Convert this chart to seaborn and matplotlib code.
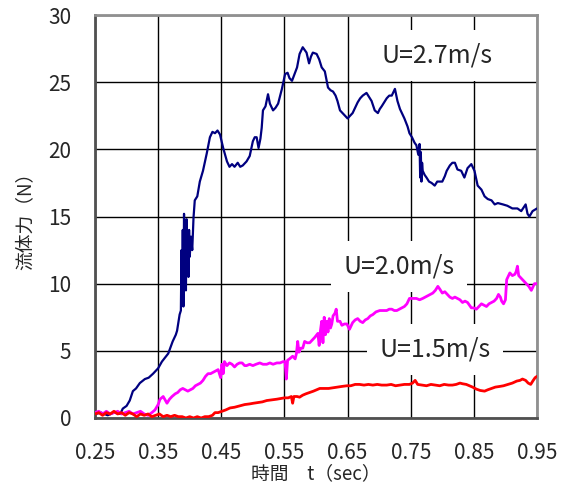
import numpy as np
import pandas as pd
import matplotlib
matplotlib.use("Agg")
import matplotlib.pyplot as plt
import seaborn as sns

# U=2.7m/s
t_27 = [0.250, 0.260, 0.270, 0.280, 0.290, 0.294, 0.300, 0.305, 0.310, 0.315,
        0.321, 0.329, 0.335, 0.342, 0.350, 0.356, 0.361, 0.366, 0.373, 0.378,
        0.380, 0.384, 0.386, 0.387, 0.388, 0.389, 0.390, 0.391, 0.392, 0.393,
        0.394, 0.395, 0.396, 0.397, 0.398, 0.399, 0.400, 0.402, 0.404, 0.406,
        0.408, 0.412, 0.416, 0.421, 0.427, 0.432, 0.436, 0.440, 0.444, 0.448,
        0.453, 0.459, 0.463, 0.467, 0.471, 0.476, 0.480, 0.484, 0.490, 0.495,
        0.500, 0.503, 0.506, 0.509, 0.512, 0.514, 0.516, 0.520, 0.524, 0.527,
        0.532, 0.536, 0.540, 0.546, 0.551, 0.555, 0.558, 0.562, 0.566, 0.570,
        0.574, 0.579, 0.585, 0.589, 0.592, 0.595, 0.601, 0.605, 0.609, 0.614,
        0.619, 0.623, 0.627, 0.631, 0.634, 0.638, 0.642, 0.646, 0.650, 0.654,
        0.658, 0.662, 0.666, 0.670, 0.674, 0.680, 0.684, 0.688, 0.693, 0.698,
        0.701, 0.704, 0.708, 0.712, 0.716, 0.720, 0.725, 0.729, 0.733, 0.736,
        0.740, 0.745, 0.748, 0.752, 0.756, 0.759, 0.762, 0.764, 0.765, 0.766,
        0.767, 0.768, 0.769, 0.772, 0.775, 0.779, 0.783, 0.788, 0.792, 0.796,
        0.800, 0.804, 0.807, 0.812, 0.816, 0.820, 0.824, 0.830, 0.835, 0.840,
        0.846, 0.851, 0.856, 0.862, 0.867, 0.872, 0.878, 0.883, 0.888, 0.896,
        0.903, 0.911, 0.919, 0.925, 0.932, 0.935, 0.938, 0.943, 0.950]
f_27 = [0.3, 0.4, 0.2, 0.4, 0.3, 0.7, 0.9, 1.3, 2.0, 2.2,
        2.6, 2.9, 3.0, 3.3, 3.7, 4.2, 4.5, 4.8, 5.7, 6.2,
        6.5, 7.7, 8.0, 12.5, 9.0, 14.0, 8.3, 15.2, 10.0, 13.5,
        9.5, 14.8, 11.0, 13.0, 10.5, 14.0, 12.0, 13.5, 12.5, 14.9,
        16.2, 16.5, 17.6, 18.4, 19.7, 20.9, 21.3, 21.2, 21.4, 21.1,
        20.1, 19.1, 18.7, 18.9, 18.7, 19.0, 18.7, 18.8, 19.1, 19.5,
        20.6, 20.9, 20.9, 20.1, 20.8, 21.6, 22.9, 23.2, 24.1, 23.4,
        22.9, 23.1, 23.4, 24.5, 25.6, 25.7, 25.3, 25.1, 25.6, 26.1,
        27.1, 27.6, 27.2, 26.4, 26.9, 27.2, 27.1, 26.7, 26.1, 25.8,
        24.6, 24.4, 24.3, 24.0, 23.6, 22.9, 22.7, 22.5, 22.3, 22.5,
        22.7, 23.1, 23.5, 23.8, 24.0, 24.2, 23.9, 23.6, 22.9, 22.7,
        23.0, 23.2, 23.5, 23.8, 24.0, 24.0, 24.5, 23.6, 23.0, 22.7,
        22.3, 21.7, 21.2, 20.9, 20.5, 20.3, 19.6, 20.4, 17.9, 19.8,
        17.6, 19.0, 18.4, 18.1, 17.9, 17.6, 17.5, 17.3, 17.6, 17.6,
        17.6, 18.0, 18.4, 18.8, 19.0, 19.0, 18.5, 18.4, 17.9, 18.6,
        18.9, 18.4, 17.3, 17.0, 16.5, 16.3, 16.2, 15.9, 16.0, 15.9,
        15.8, 15.6, 15.6, 15.4, 15.9, 15.2, 15.0, 15.4, 15.6]

# U=2.0m/s
t_20 = [0.250, 0.256, 0.262, 0.268, 0.274, 0.280, 0.286, 0.292, 0.298, 0.304,
        0.310, 0.316, 0.322, 0.328, 0.334, 0.340, 0.345, 0.350, 0.353, 0.358,
        0.364, 0.368, 0.372, 0.377, 0.381, 0.385, 0.389, 0.393, 0.397, 0.401,
        0.405, 0.409, 0.413, 0.417, 0.421, 0.425, 0.429, 0.433, 0.437, 0.441,
        0.445, 0.449, 0.451, 0.453, 0.455, 0.459, 0.463, 0.467, 0.471, 0.475,
        0.479, 0.483, 0.487, 0.490, 0.495, 0.500, 0.505, 0.511, 0.516, 0.522,
        0.527, 0.532, 0.538, 0.543, 0.548, 0.551, 0.553, 0.555, 0.558, 0.563,
        0.567, 0.569, 0.571, 0.573, 0.576, 0.579, 0.582, 0.586, 0.590, 0.594,
        0.598, 0.603, 0.605, 0.607, 0.609, 0.611, 0.613, 0.615, 0.617, 0.619,
        0.621, 0.623, 0.625, 0.627, 0.630, 0.632, 0.634, 0.638, 0.641, 0.645,
        0.649, 0.653, 0.658, 0.662, 0.666, 0.670, 0.674, 0.678, 0.682, 0.686,
        0.690, 0.695, 0.701, 0.706, 0.712, 0.716, 0.720, 0.724, 0.728, 0.732,
        0.736, 0.740, 0.744, 0.748, 0.753, 0.759, 0.764, 0.769, 0.773, 0.777,
        0.781, 0.785, 0.789, 0.793, 0.796, 0.800, 0.804, 0.808, 0.812, 0.816,
        0.820, 0.824, 0.828, 0.832, 0.836, 0.840, 0.843, 0.846, 0.850, 0.854,
        0.858, 0.862, 0.866, 0.870, 0.874, 0.878, 0.882, 0.886, 0.889, 0.892,
        0.894, 0.897, 0.900, 0.902, 0.905, 0.907, 0.911, 0.915, 0.917, 0.919,
        0.921, 0.925, 0.929, 0.933, 0.937, 0.941, 0.944, 0.946, 0.950]
f_20 = [0.4, 0.5, 0.3, 0.5, 0.3, 0.4, 0.5, 0.3, 0.4, 0.5,
        0.3, 0.4, 0.5, 0.3, 0.2, 0.4, 0.6, 1.0, 1.4, 1.6,
        1.1, 1.4, 1.6, 1.8, 1.9, 2.1, 2.2, 2.1, 2.0, 2.1,
        2.2, 2.4, 2.5, 2.6, 2.8, 3.1, 3.3, 3.3, 3.4, 3.5,
        3.6, 3.0, 4.0, 3.3, 4.2, 3.9, 4.1, 4.0, 3.8, 4.0,
        4.1, 4.1, 3.9, 3.9, 4.0, 3.9, 4.0, 4.1, 4.0, 4.0,
        4.1, 4.0, 4.1, 4.1, 4.2, 4.2, 2.9, 4.3, 4.4, 4.6,
        4.4, 4.8, 5.7, 4.9, 5.2, 5.2, 5.7, 5.6, 5.6, 5.8,
        6.0, 6.3, 5.4, 6.5, 7.2, 5.6, 7.5, 6.2, 7.2, 6.4,
        7.4, 6.7, 7.0, 7.6, 7.8, 8.1, 7.2, 7.2, 6.9, 7.0,
        7.0, 6.6, 7.1, 7.3, 7.4, 7.2, 7.1, 7.3, 7.4, 7.6,
        7.7, 7.9, 8.0, 8.0, 8.0, 8.1, 8.1, 8.0, 8.0, 8.1,
        8.2, 8.3, 8.5, 8.9, 8.9, 8.9, 8.8, 8.9, 9.0, 9.1,
        9.2, 9.3, 9.5, 9.8, 9.6, 9.3, 9.4, 9.2, 9.0, 8.9,
        9.0, 8.9, 8.8, 8.6, 8.7, 8.6, 8.4, 8.2, 8.2, 8.1,
        8.3, 8.5, 8.4, 8.3, 8.5, 8.6, 8.7, 8.9, 9.2, 9.0,
        8.7, 8.5, 8.8, 10.3, 10.6, 10.8, 10.6, 10.7, 10.9, 11.3,
        10.6, 10.4, 10.2, 10.0, 9.8, 9.5, 9.8, 10.0, 10.0]

# U=1.5m/s
t_15 = [0.250, 0.256, 0.262, 0.268, 0.274, 0.280, 0.286, 0.292, 0.298, 0.304,
        0.310, 0.316, 0.322, 0.328, 0.334, 0.340, 0.346, 0.352, 0.358, 0.364,
        0.370, 0.376, 0.382, 0.388, 0.394, 0.400, 0.406, 0.412, 0.418, 0.424,
        0.430, 0.436, 0.440, 0.445, 0.451, 0.457, 0.464, 0.471, 0.479, 0.487,
        0.495, 0.501, 0.508, 0.515, 0.522, 0.530, 0.538, 0.544, 0.550, 0.556,
        0.561, 0.563, 0.565, 0.570, 0.574, 0.579, 0.584, 0.590, 0.596, 0.601,
        0.606, 0.612, 0.620, 0.627, 0.634, 0.641, 0.649, 0.655, 0.662, 0.669,
        0.676, 0.683, 0.690, 0.697, 0.704, 0.712, 0.719, 0.726, 0.733, 0.740,
        0.748, 0.753, 0.757, 0.761, 0.768, 0.775, 0.782, 0.789, 0.796, 0.803,
        0.810, 0.816, 0.822, 0.828, 0.832, 0.838, 0.843, 0.848, 0.854, 0.860,
        0.867, 0.872, 0.878, 0.884, 0.891, 0.897, 0.904, 0.911, 0.918, 0.923,
        0.927, 0.932, 0.936, 0.940, 0.944, 0.947, 0.950]
f_15 = [0.3, 0.4, 0.2, 0.4, 0.3, 0.5, 0.3, 0.4, 0.2, 0.4,
        0.3, 0.1, 0.3, 0.2, 0.3, 0.1, 0.2, 0.3, 0.1, 0.2,
        0.1, 0.2, 0.1, 0.1, 0.0, 0.1, 0.0, 0.1, 0.0, 0.1,
        0.1, 0.2, 0.4, 0.4, 0.5, 0.6, 0.75, 0.8, 0.9, 1.0,
        1.05, 1.1, 1.15, 1.2, 1.3, 1.35, 1.4, 1.45, 1.5, 1.5,
        1.6, 1.1, 1.6, 1.6, 1.55, 1.7, 1.8, 1.9, 2.0, 2.1,
        2.2, 2.2, 2.2, 2.25, 2.3, 2.35, 2.4, 2.4, 2.5, 2.5,
        2.45, 2.5, 2.45, 2.5, 2.45, 2.45, 2.5, 2.4, 2.45, 2.5,
        2.5, 2.6, 2.8, 2.5, 2.45, 2.4, 2.5, 2.45, 2.4, 2.5,
        2.45, 2.45, 2.5, 2.6, 2.55, 2.5, 2.4, 2.3, 2.15, 2.05,
        2.0, 2.1, 2.2, 2.3, 2.35, 2.4, 2.5, 2.6, 2.75, 2.8,
        2.9, 2.8, 2.6, 2.5, 2.8, 3.0, 3.1]

series_labels = ["U=2.7m/s", "U=2.0m/s", "U=1.5m/s"]
colors = ["#000080", "#FF00FF", "#FF0000"]
widths = [1.6, 2.0, 2.0]
x_ticks = [0.25, 0.35, 0.45, 0.55, 0.65, 0.75, 0.85, 0.95]
y_ticks = [0, 5, 10, 15, 20, 25, 30]

sns.set_style("white")
plt.rcParams["font.family"] = ["Noto Sans CJK JP", "DejaVu Sans"]

fig = plt.figure(figsize=(5.69, 4.84), dpi=100)
ax = fig.add_axes([95 / 569, 1 - 418 / 484, 442 / 569, 403 / 484])

# 各流速の流体力
for t, f, lab, c, w in zip([t_27, t_20, t_15], [f_27, f_20, f_15], series_labels, colors, widths):
    d = pd.DataFrame({"t": t, "F": f})
    sns.lineplot(data=d, x="t", y="F", color=c, estimator=None, sort=False,
                 linewidth=w, ax=ax, zorder=5)

ax.set_xlim(0.25, 0.95)
ax.set_ylim(0, 30)
ax.set_xticks(x_ticks)
ax.set_yticks(y_ticks)
ax.set_xticklabels([f"{v:.2f}" for v in x_ticks])
ax.set_yticklabels([str(v) for v in y_ticks])
ax.grid(True, color="black", linewidth=1.0)
ax.set_axisbelow(True)
ax.tick_params(axis="x", length=0, pad=17, labelsize=15)
ax.tick_params(axis="y", length=0, pad=17, labelsize=15)

for side in ["top", "right"]:
    ax.spines[side].set_color("#909090")
    ax.spines[side].set_linewidth(2)
for side in ["left", "bottom"]:
    ax.spines[side].set_color("#505050")
    ax.spines[side].set_linewidth(2)

ax.set_xlabel("時間　t（sec）", fontsize=13.5, labelpad=0)
ax.set_ylabel("流体力（N）", fontsize=13.5, labelpad=9)

box = dict(boxstyle="square,pad=0.5", facecolor="white", edgecolor="none")
ax.text(0.791, 26.95, series_labels[0], ha="center", va="center", fontsize=18, bbox=box, zorder=3)
ax.text(0.731, 11.3, series_labels[1], ha="center", va="center", fontsize=18, bbox=box, zorder=3)
ax.text(0.788, 5.1, series_labels[2], ha="center", va="center", fontsize=18, bbox=box, zorder=3)

fig.savefig("out.png", dpi=100)
